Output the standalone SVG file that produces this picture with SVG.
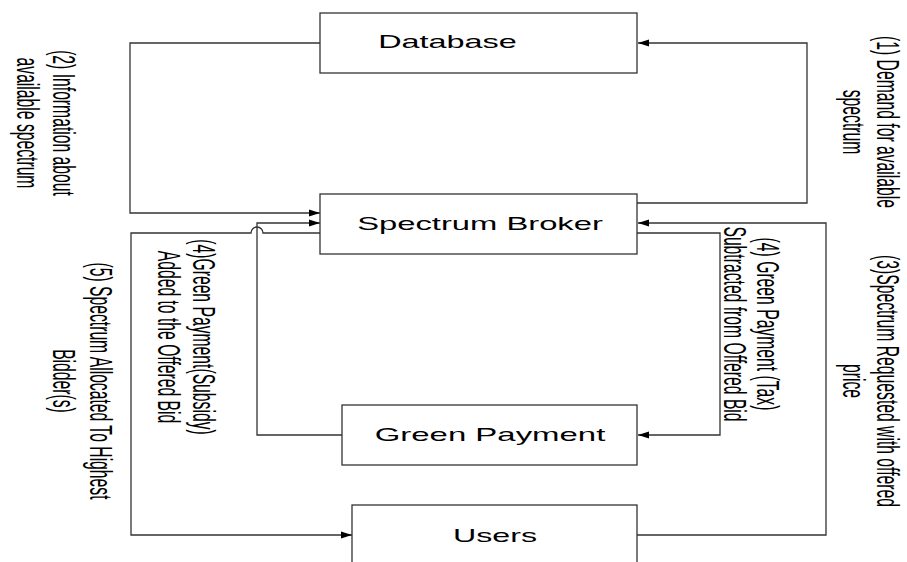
<svg xmlns="http://www.w3.org/2000/svg" width="907" height="562" viewBox="0 0 907 562">
  <style>
    .box { fill: #ffffff; stroke: #333333; stroke-width: 1.3; }
    .wire { fill: none; stroke: #333333; stroke-width: 1.3; }
    .name { font-family: "Liberation Sans", Arial, sans-serif; font-size: 18px; fill: #000000; text-anchor: middle; }
    .lbl { font-family: "Liberation Sans", Arial, sans-serif; font-size: 32px; fill: #000000; text-anchor: middle; }
  </style>
  <defs>
    <marker id="arrow" markerUnits="userSpaceOnUse" markerWidth="12" markerHeight="8" refX="11" refY="4" orient="auto">
      <path d="M0,0.6 L11,4 L0,7.4 Z" fill="#000000"/>
    </marker>
  </defs>
  <rect width="907" height="562" fill="#ffffff"/>

  <!-- connectors -->
  <g id="connectors">
    <!-- (1) broker -> database -->
    <path class="wire" d="M637,203 H807 V43 H638" marker-end="url(#arrow)"/>
    <!-- (2) database -> broker -->
    <path class="wire" d="M320,43 H130 V213 H320" marker-end="url(#arrow)"/>
    <!-- (3) users -> broker -->
    <path class="wire" d="M637,535 H826 V223 H638" marker-end="url(#arrow)"/>
    <!-- (4) broker -> green payment (tax) -->
    <path class="wire" d="M637,233 H720 V435 H638" marker-end="url(#arrow)"/>
    <!-- (4) green payment -> broker (subsidy) -->
    <path class="wire" d="M342,435 H257 V223 H320" marker-end="url(#arrow)"/>
    <!-- (5) broker -> users, hopping over the subsidy line -->
    <path class="wire" d="M320,233 H263 A6,6 0 0 0 251,233 H131 V535 H352" marker-end="url(#arrow)"/>
  </g>

  <!-- nodes -->
  <g id="database">
    <rect class="box" x="320" y="13" width="317" height="60"/>
    <text class="name" transform="translate(447.5,48) scale(1.8,1)">Database</text>
  </g>
  <g id="spectrum-broker">
    <rect class="box" x="320" y="194" width="317" height="60"/>
    <text class="name" transform="translate(480,230) scale(1.82,1)">Spectrum Broker</text>
  </g>
  <g id="green-payment">
    <rect class="box" x="342" y="405" width="295" height="60"/>
    <text class="name" transform="translate(490,441) scale(1.83,1)">Green Payment</text>
  </g>
  <g id="users">
    <rect class="box" x="352" y="505" width="285" height="80"/>
    <text class="name" transform="translate(495,542) scale(1.79,1)">Users</text>
  </g>

  <!-- flow labels, set vertically -->
  <g id="labels">
    <text class="lbl" transform="translate(53,123) rotate(90) scale(0.491,1)">(2) Information about</text>
    <text class="lbl" transform="translate(17,123) rotate(90) scale(0.491,1)">available spectrum</text>

    <text class="lbl" transform="translate(877,122) rotate(90) scale(0.491,1)">(1) Demand for available</text>
    <text class="lbl" transform="translate(843,122) rotate(90) scale(0.491,1)">spectrum</text>

    <text class="lbl" transform="translate(877,381) rotate(90) scale(0.491,1)">(3)Spectrum Requested with offered</text>
    <text class="lbl" transform="translate(843,381) rotate(90) scale(0.491,1)">price</text>

    <text class="lbl" transform="translate(757,324) rotate(90) scale(0.491,1)">(4) Green Payment (Tax)</text>
    <text class="lbl" transform="translate(724,324) rotate(90) scale(0.491,1)">Subtracted from Offered Bid</text>

    <text class="lbl" transform="translate(193,337) rotate(90) scale(0.491,1)">(4)Green Payment(Subsidy)</text>
    <text class="lbl" transform="translate(158,337) rotate(90) scale(0.491,1)">Added to the Offered Bid</text>

    <text class="lbl" transform="translate(90,381) rotate(90) scale(0.491,1)">(5) Spectrum Allocated To Highest</text>
    <text class="lbl" transform="translate(53,381) rotate(90) scale(0.491,1)">Bidder(s)</text>
  </g>
</svg>
